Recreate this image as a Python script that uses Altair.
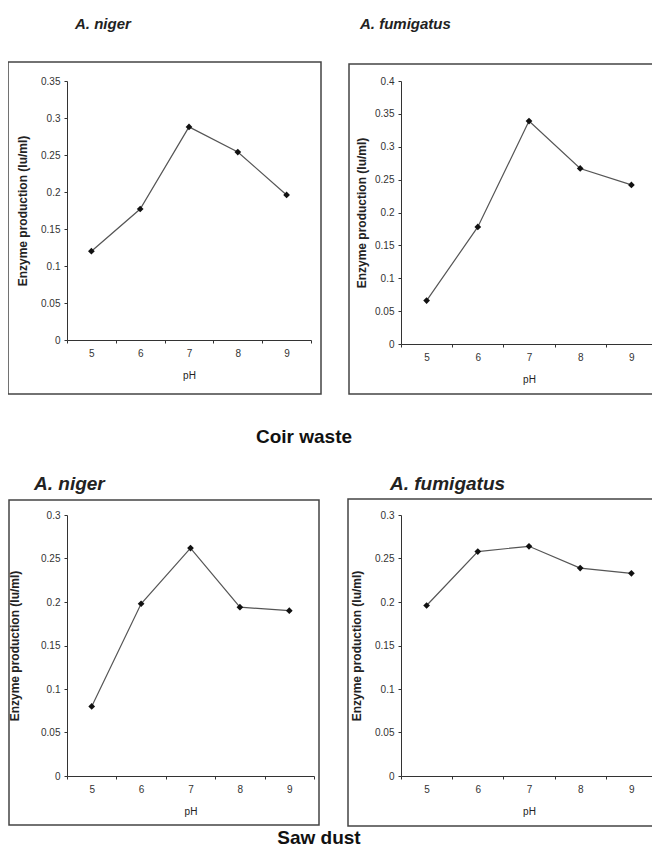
import altair as alt
import pandas as pd

# ---- data ----
ph = [5, 6, 7, 8, 9]
coir_niger = [0.120, 0.177, 0.288, 0.254, 0.196]
coir_fumigatus = [0.066, 0.178, 0.339, 0.267, 0.242]
saw_niger = [0.080, 0.198, 0.262, 0.194, 0.190]
saw_fumigatus = [0.196, 0.258, 0.264, 0.239, 0.233]

ticks_035 = [0, 0.05, 0.1, 0.15, 0.2, 0.25, 0.3, 0.35]
ticks_04 = [0, 0.05, 0.1, 0.15, 0.2, 0.25, 0.3, 0.35, 0.4]
ticks_03 = [0, 0.05, 0.1, 0.15, 0.2, 0.25, 0.3]

y_title = "Enzyme production (Iu/ml)"
x_title = "pH"
FONT = "Liberation Sans"
AX = "#333333"


def panel(values, ymax, yticks, title, tsize, tx, ty, w, h, frame, ytx):
    df = pd.DataFrame({"pH": ph, "v": values})
    base = alt.Chart(df).encode(
        x=alt.X(
            "pH:O",
            bandPosition=0.5,
            scale=alt.Scale(type="band", paddingInner=0, paddingOuter=0),
            axis=alt.Axis(
                title=x_title, tickBand="extent", labelAngle=0, grid=False,
                domainColor=AX, tickColor=AX, tickSize=3, labelPadding=5,
                labelFont=FONT, labelFontSize=10, labelColor=AX,
                titleFont=FONT, titleFontSize=10, titleFontWeight="normal",
                titleColor="#222", titlePadding=12,
            ),
        ),
        y=alt.Y(
            "v:Q",
            scale=alt.Scale(domain=[0, ymax], nice=False, zero=True),
            axis=alt.Axis(
                title=y_title, values=yticks, format="~g", grid=False,
                domainColor=AX, tickColor=AX, tickSize=3, labelPadding=4,
                labelFont=FONT, labelFontSize=10, labelColor=AX,
                titleFont=FONT, titleFontSize=12, titleFontWeight="bold",
                titleColor="#222", titleX=ytx, titleBaseline="middle",
            ),
        ),
    )
    line = base.mark_line(color="#555555", strokeWidth=1.2)
    pts = base.mark_point(shape="diamond", filled=True, color="#111111", size=45, opacity=1)
    fx0, fx1, fy0, fy1 = frame
    box = alt.Chart(alt.Data(values=[{}])).mark_rect(
        filled=False, stroke="#444444", strokeWidth=1.5
    ).encode(x=alt.value(fx0), x2=alt.value(fx1), y=alt.value(fy0), y2=alt.value(fy1))
    label = alt.Chart(alt.Data(values=[{}])).mark_text(
        text=title, align="left", baseline="alphabetic", font=FONT, fontSize=tsize,
        fontStyle="italic", fontWeight="bold", color="#222222",
    ).encode(x=alt.value(tx), y=alt.value(ty))
    return alt.layer(box, label, line, pts).properties(width=w, height=h)


def caption(text, cx, base_y, w, h):
    return alt.Chart(alt.Data(values=[{}])).mark_text(
        text=text, align="center", baseline="alphabetic", font=FONT, fontSize=19,
        fontWeight="bold", color="#111111",
    ).encode(x=alt.value(cx), y=alt.value(base_y)).properties(width=w, height=h)


tl = panel(coir_niger, 0.35, ticks_035, "A. niger", 15, 8, -52, 244, 259, (-59, 254, -19, 313), -45)
tr = panel(coir_fumigatus, 0.4, ticks_04, "A. fumigatus", 15, -41, -52, 256, 263, (-52, 262, -17, 313), -40)
bl = panel(saw_niger, 0.3, ticks_03, "A. niger", 19, -33, -25, 247, 261, (-58, 252, -15, 310), -53)
br = panel(saw_fumigatus, 0.3, ticks_03, "A. fumigatus", 19, -11, -25, 256, 261, (-53, 262, -16, 311), -45)

top = alt.hconcat(tl, tr, spacing=24)
bottom = alt.hconcat(bl, br, spacing=25)
coir = caption("Coir waste", 237, 46, 400, 76)
saw = caption("Saw dust", 252, 15, 400, 16)

chart = alt.vconcat(top, coir, bottom, saw, spacing=0).properties(
    padding={"left": -2, "top": 8, "right": -13, "bottom": 0}, background="white"
).configure_view(stroke="transparent").configure_concat(spacing=0)

chart.save("out.html", embed_options={"renderer": "svg", "actions": False})
